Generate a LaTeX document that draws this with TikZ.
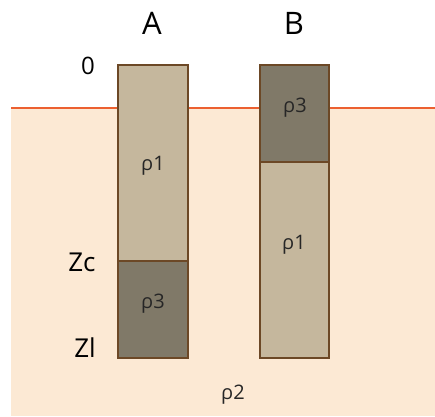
\documentclass[tikz,border=0pt]{standalone}
\usepackage{fontspec}
\setmainfont{Open Sans}
\usepackage{tikz}
\usetikzlibrary{positioning}
\definecolor{sol}{RGB}{252,233,212}
\definecolor{surface}{RGB}{236,96,48}
\definecolor{clair}{RGB}{197,183,157}
\definecolor{fonce}{RGB}{128,121,104}
\definecolor{bord}{RGB}{108,72,38}

\begin{document}
\begin{tikzpicture}[x=1pt,y=-1pt,
	bloc/.style={draw=bord,line width=1.4pt},
	lettre/.style={font=\fontsize{31}{34}\selectfont},
	cote/.style={font=\fontsize{26}{30}\selectfont},
	rho/.style={font=\fontsize{20}{22}\selectfont,text=black!85}]
	\useasboundingbox (0,0) rectangle (435,416);
	\fill[sol] (11,108) rectangle (435,416);
	\draw[surface,line width=1.2pt] (11,108)--(435,108);
	
	% colonne A
	\draw[bloc,fill=clair] (118,65) rectangle (188,261);
	\draw[bloc,fill=fonce] (118,261) rectangle (188,358);
	\node[lettre] (A) at (152,23){A};
	\node[rho] (a1) at (153,166){ρ1};
	\node[rho] (a3) at (153,304){ρ3};
	
	% colonne B
	\draw[bloc,fill=fonce] (260,65) rectangle (329,162);
	\draw[bloc,fill=clair] (260,162) rectangle (329,358);
	\node[lettre] (B) at (294,23){B};
	\node[rho] (b3) at (295,108){ρ3};
	\node[rho] (b1) at (294,245){ρ1};
	
	% profondeurs
	\node[cote,font=\fontsize{24}{28}\selectfont] (z0) at (88,66){0};
	\node[cote] (zc) at (82,262){Zc};
	\node[cote] (zl) at (85,348){Zl};
	\node[rho] (sol2) at (233,395){ρ2};
\end{tikzpicture}
\end{document}
